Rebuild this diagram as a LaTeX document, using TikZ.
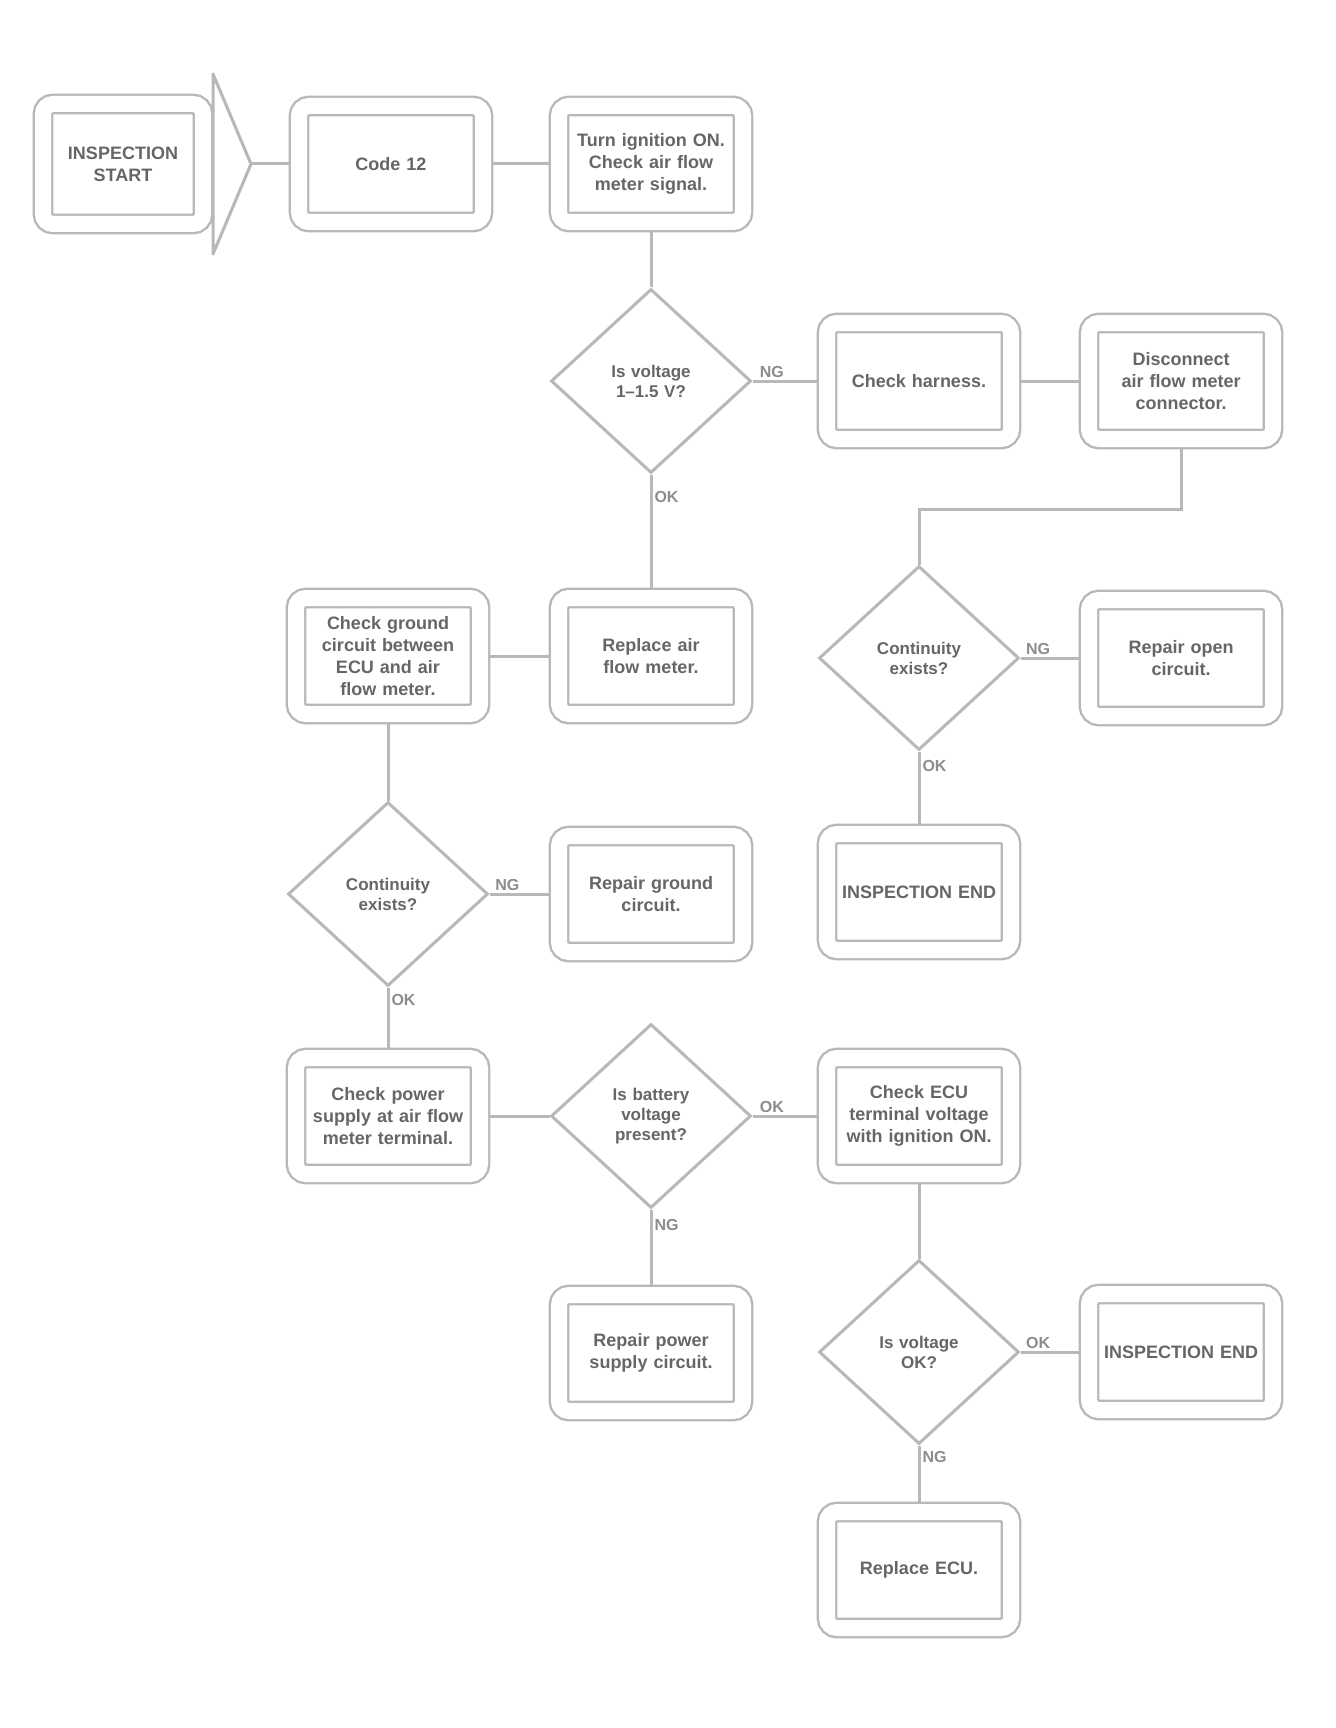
\documentclass[tikz,border=0pt]{standalone}
\usepackage{fontspec}
\setmainfont{Liberation Sans}
\usepackage{tikz}
\usetikzlibrary{positioning,calc,shapes.geometric}
\tikzstyle{box}=[draw=black!28,line width=1.2pt,double=white,double distance=8pt,rounded corners=5pt,outer sep=5pt,minimum width=92pt,minimum height=58pt,text width=80pt,align=center,inner sep=2pt,font=\fontsize{9}{11}\selectfont\bfseries,text=black!60]
\tikzstyle{test}=[draw=black!28,line width=1.5pt,diamond,aspect=1.1,minimum width=100pt,minimum height=92pt,inner sep=0pt,text width=56pt,align=center,font=\fontsize{8.5}{10}\selectfont\bfseries,text=black!60]
\tikzstyle{edge}=[draw=black!28,line width=1.5pt]
\tikzstyle{tag}=[font=\fontsize{8}{9}\selectfont\bfseries,text=black!45,inner sep=1pt]

\begin{document}
\begin{tikzpicture}[x=0.5pt,y=-0.5pt]
\useasboundingbox[fill=white] (0,0) rectangle (1335,1728);
\node [box,minimum width=80pt,minimum height=60pt,text width=74pt] (start) at (123,164) {INSPECTION START};
\coordinate (tip) at ([xshift=19pt]start.east);
\draw [edge,line join=round] ([yshift=45pt]start.east) -- (tip) -- ([yshift=-45pt]start.east) -- cycle;
\node [box] (code) at (391,164) {Code 12};
\node [box] (afm) at (651,164) {Turn ignition ON. Check air flow meter signal.};
\node [test] (volt) at (651,381) {Is voltage 1--1.5 V?};
\node [box] (harn) at (919,381) {Check harness.};
\node [box] (disc) at (1181,381) {Disconnect air flow meter connector.};
\node [box] (gnd) at (388,656) {Check ground circuit between ECU and air flow meter.};
\node [box] (repl) at (651,656) {Replace air flow meter.};
\node [test] (cont) at (919,658) {Continuity exists?};
\node [box] (open) at (1181,658) {Repair open circuit.};
\node [test] (gcont) at (388,894) {Continuity exists?};
\node [box] (rgnd) at (651,894) {Repair ground circuit.};
\node [box] (end1) at (919,892) {INSPECTION END};
\node [box] (pwr) at (388,1116) {Check power supply at air flow meter terminal.};
\node [test] (batt) at (651,1116) {Is battery voltage present?};
\node [box] (ecu) at (919,1116) {Check ECU terminal voltage with ignition ON.};
\node [box] (rpwr) at (651,1353) {Repair power supply circuit.};
\node [test] (evolt) at (919,1352) {Is voltage\\OK?};
\node [box] (end2) at (1181,1352) {INSPECTION END};
\node [box] (recu) at (919,1570) {Replace ECU.};

\draw [edge] (tip) -- (code);
\draw [edge] (code) -- (afm);
\draw [edge] (afm) -- (volt);
\draw [edge] (volt) -- node[tag,above,pos=0.3] {NG} (harn);
\draw [edge] (harn) -- (disc);
\draw [edge] (disc.south) -- ++(0,60) -| (cont.north);
\draw [edge] (volt) -- node[tag,right,pos=0.2] {OK} (repl);
\draw [edge] (repl) -- (gnd);
\draw [edge] (cont) -- node[tag,above,pos=0.3] {NG} (open);
\draw [edge] (cont) -- node[tag,right,pos=0.2] {OK} (end1);
\draw [edge] (gnd) -- (gcont);
\draw [edge] (gcont) -- node[tag,above,pos=0.3] {NG} (rgnd);
\draw [edge] (gcont) -- node[tag,right,pos=0.2] {OK} (pwr);
\draw [edge] (pwr) -- (batt);
\draw [edge] (batt) -- node[tag,above,pos=0.3] {OK} (ecu);
\draw [edge] (batt) -- node[tag,right,pos=0.2] {NG} (rpwr);
\draw [edge] (ecu) -- (evolt);
\draw [edge] (evolt) -- node[tag,above,pos=0.3] {OK} (end2);
\draw [edge] (evolt) -- node[tag,right,pos=0.2] {NG} (recu);
\end{tikzpicture}
\end{document}
